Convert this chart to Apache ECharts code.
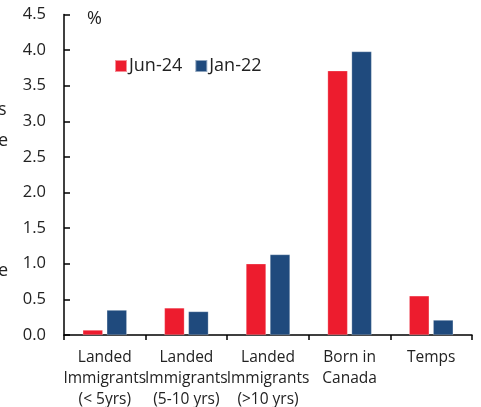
<!DOCTYPE html>
<html><head><meta charset="utf-8">
<script src="https://cdn.jsdelivr.net/npm/echarts@6/dist/echarts.min.js"></script>
<style>html,body{margin:0;padding:0;background:#fff}#c{width:481px;height:407px}</style>
</head><body><div id="c"></div>
<script>
const categories = ["Landed\nImmigrants\n(< 5yrs)", "Landed\nImmigrants\n(5-10 yrs)", "Landed\nImmigrants\n(>10 yrs)", "Born in\nCanada", "Temps"];
const seriesNames = ["Jun-24", "Jan-22"];
const jun24 = [0.07, 0.38, 1.0, 3.71, 0.55];
const jan22 = [0.35, 0.33, 1.13, 3.98, 0.21];
const yTicks = { min: 0, max: 4.5, interval: 0.5 };
const unitLabel = "%";

const FONT = "Open Sans";
const chart = echarts.init(document.getElementById('c'), null, { renderer: 'canvas' });
chart.setOption({
  animation: false,
  textStyle: { fontFamily: FONT },
  grid: { left: 64, right: 9, top: 14.5, bottom: 72, containLabel: false, outerBoundsMode: 'none' },
  legend: {
    data: seriesNames, left: 109, top: 52, itemWidth: 12, itemHeight: 12, itemGap: 12,
    icon: 'rect',
    textStyle: { fontFamily: FONT, fontSize: 18, color: '#222', padding: [0, 0, 0, -3] }
  },
  graphic: [
    { type: 'text', left: 87, top: 10, style: { text: unitLabel, font: '18px "Open Sans"', fill: '#222' } },
    { type: 'text', left: -2, top: 101, style: { text: 's', font: '18px "Open Sans"', fill: '#222' } },
    { type: 'text', left: -2, top: 132, style: { text: 'e', font: '18px "Open Sans"', fill: '#222' } },
    { type: 'text', left: -2, top: 262, style: { text: 'e', font: '18px "Open Sans"', fill: '#222' } }
  ],
  xAxis: {
    type: 'category', data: categories,
    axisLine: { lineStyle: { color: '#000', width: 1.5 } },
    axisTick: { show: true, length: 5, inside: false, lineStyle: { color: '#000', width: 1.5 } },
    axisLabel: { fontFamily: FONT, fontSize: 15.5, color: '#222', lineHeight: 21, margin: 12, interval: 0 }
  },
  yAxis: {
    type: 'value', min: yTicks.min, max: yTicks.max, interval: yTicks.interval,
    splitLine: { show: false },
    axisLine: { show: true, lineStyle: { color: '#000', width: 1.5 } },
    axisTick: { show: true, inside: true, length: 6, lineStyle: { color: '#000', width: 1.5 } },
    axisLabel: { fontFamily: FONT, fontSize: 16.5, color: '#222', margin: 18, formatter: v => v.toFixed(1) }
  },
  series: [
    { name: seriesNames[0], type: 'bar', data: jun24, barWidth: 20, barGap: '20%',
      itemStyle: { color: '#ED1C2E', borderColor: 'rgba(255,255,255,0.5)', borderWidth: 0.5 } },
    { name: seriesNames[1], type: 'bar', data: jan22, barWidth: 20,
      itemStyle: { color: '#1F4A7D', borderColor: 'rgba(255,255,255,0.5)', borderWidth: 0.5 } }
  ]
});
</script></body></html>
